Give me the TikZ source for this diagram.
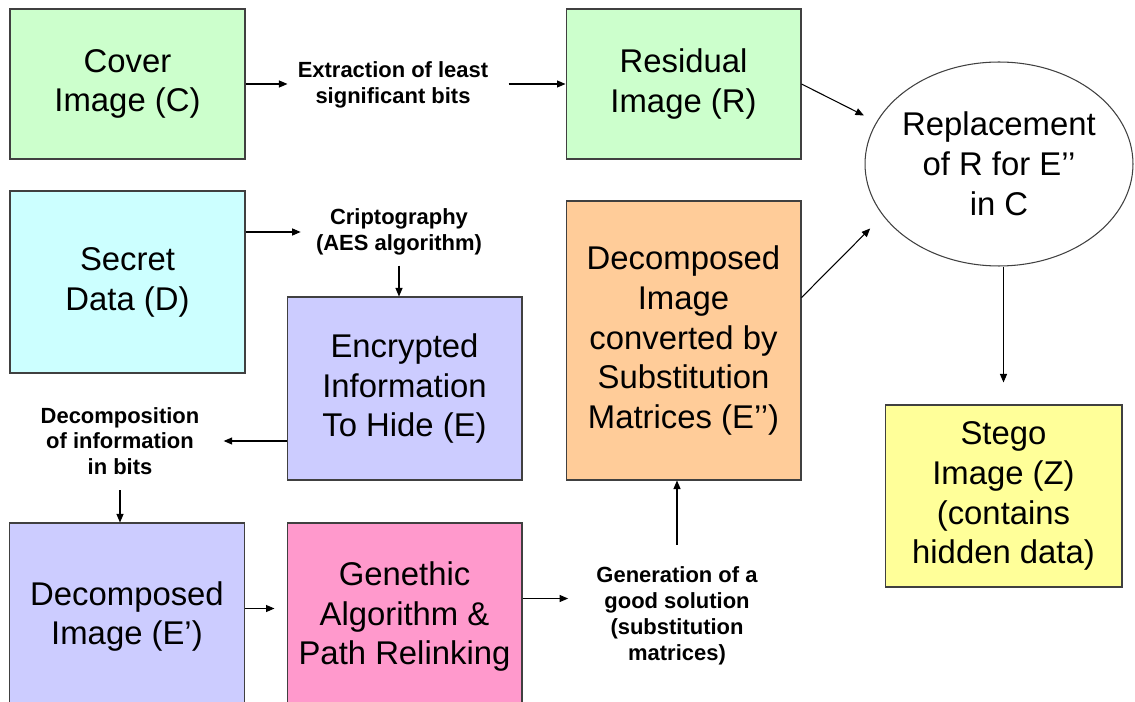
\documentclass[tikz,border=0pt]{standalone}
\usepackage{fontspec}
\setmainfont{Liberation Sans}
\usetikzlibrary{shapes.geometric,arrows.meta}
\definecolor{cgreen}{HTML}{CCFFCC}
\definecolor{ccyan}{HTML}{CCFFFF}
\definecolor{clav}{HTML}{CCCCFF}
\definecolor{corange}{HTML}{FFCC99}
\definecolor{cpink}{HTML}{FF99CC}
\definecolor{cyellow}{HTML}{FFFF99}
\definecolor{boxline}{HTML}{404040}
\begin{document}
\begin{tikzpicture}[x=0.02cm,y=-0.02cm,
  box/.style={draw=boxline, line width=0.6pt, minimum width=4.7cm, inner sep=0pt, align=center,
    font=\fontsize{18.7}{22.7}\selectfont},
  lbl/.style={align=center, inner sep=0.2cm, font=\bfseries\fontsize{12.5}{14.7}\selectfont},
  arr/.style={-{Triangle[length=1.7mm,width=1.4mm]}, line width=0.6pt}]
\useasboundingbox (0,0) rectangle (1135,702);
\fill[white] (0,0) rectangle (1135,702);
% boxes
\node[box, fill=cgreen, minimum height=3cm] (cover) at (127.5,84) {Cover\\Image (C)};
\node[box, fill=cgreen, minimum height=3cm] (resid) at (683.5,84) {Residual\\Image (R)};
\node[box, fill=ccyan, minimum height=3.64cm] (secret) at (127.5,282) {Secret\\Data (D)};
\node[box, fill=clav, minimum height=3.66cm] (enc) at (404.5,388.5) {Encrypted\\Information\\To Hide (E)};
\node[box, fill=corange, minimum height=5.58cm] (conv) at (683.5,340.5) {Decomposed\\Image\\converted by\\Substitution\\Matrices (E’’)};
\node[ellipse, draw=boxline, line width=0.6pt, fill=white, minimum width=5.36cm, minimum height=4.08cm,
  inner xsep=-0.15cm, inner ysep=0pt, align=center, font=\fontsize{18.7}{22.7}\selectfont] (repl) at (999,164)
  {Replacement\\of R for E’’\\in C};
\node[box, fill=cyellow, minimum width=4.74cm, minimum height=3.64cm] (stego) at (1003.5,496) {Stego\\Image (Z)\\(contains\\hidden data)};
\node[box, fill=clav, minimum height=3.74cm] (decE) at (127,616.5) {Decomposed\\Image (E’)};
\node[box, fill=cpink, minimum height=3.74cm] (gen) at (404.5,616.5) {Genethic\\Algorithm \&\\Path Relinking};
% labels
\node[lbl] (lext) at (393,85) {Extraction of least\\significant bits};
\node[lbl] (lcry) at (399,232) {Criptography\\(AES algorithm)};
\node[lbl] (ldec) at (120,441) {Decomposition\\of information\\in bits};
\node[lbl] (lgen) at (677,616) {Generation of a\\good solution\\(substitution\\matrices)};
% connectors
\draw[arr] (cover.east) -- (cover.east -| lext.west);
\draw[arr, shorten <=0.2cm] (cover.east -| lext.east) -- (resid.west);
\draw[arr, shorten >=0.1cm] (secret.east |- lcry.west) -- (lcry.west);
\draw[arr] (lcry.south) -- (lcry.south |- enc.north);
\draw[arr, shorten >=0.28cm] (enc.west |- ldec.east) -- (ldec.east);
\draw[arr, shorten <=0.1cm] (ldec.south) -- (ldec.south |- decE.north);
\coordinate (d1) at ([yshift=0.16cm]decE.east);
\draw[arr, shorten >=0.24cm] (d1) -- (d1 -| gen.west);
\coordinate (g1) at ([yshift=0.36cm]gen.east);
\draw[arr, shorten >=0.36cm] (g1) -- (g1 -| lgen.west);
\draw[arr, shorten <=0.24cm] (lgen.north) -- (lgen.north |- conv.south);
\draw[arr, shorten >=0.28cm] (resid.east) -- (repl.161);
\draw[arr, shorten >=0.36cm] (conv.20) -- (repl.204);
\draw[arr, shorten >=0.44cm] (stego.north |- repl.south) -- (stego.north);
\end{tikzpicture}
\end{document}
